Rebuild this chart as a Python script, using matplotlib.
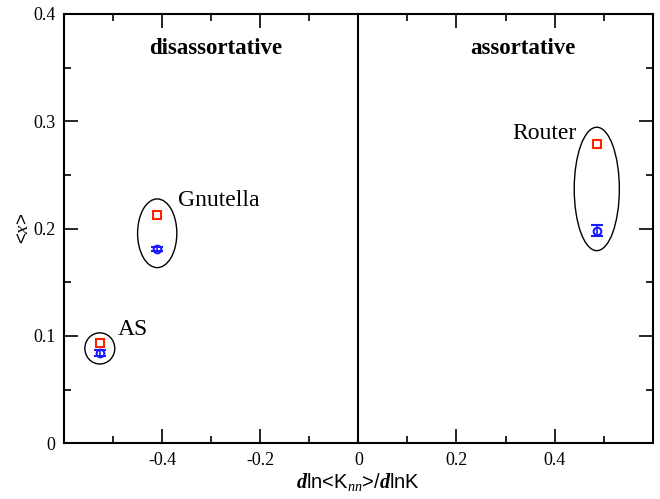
import matplotlib
matplotlib.use("Agg")
import matplotlib.pyplot as plt
from matplotlib.patches import Ellipse
from matplotlib.ticker import MultipleLocator

plt.rcParams['mathtext.fontset'] = 'custom'
plt.rcParams['mathtext.rm'] = 'Liberation Serif'
plt.rcParams['mathtext.it'] = 'Liberation Serif:italic'
plt.rcParams['mathtext.bf'] = 'Liberation Serif:bold'
plt.rcParams['mathtext.bfit'] = 'Liberation Serif:bold:italic'

networks = ["AS", "Gnutella", "Router"]
slope = [-0.527, -0.410, 0.487]
x_red = [0.0935, 0.213, 0.279]
x_blue = [0.084, 0.181, 0.198]
x_blue_err = [0.003, 0.002, 0.005]

ell_cx = [-0.527, -0.410, 0.486]
ell_cy = [0.0884, 0.1957, 0.237]
ell_w = [0.061, 0.080, 0.092]
ell_h = [0.029, 0.064, 0.115]

label_x = [-0.49, -0.368, 0.444]
label_y = [0.106, 0.226, 0.289]
label_ha = ["left", "left", "right"]

fig = plt.figure(figsize=(6.6, 4.99), dpi=100)
ax = fig.add_axes([64/660, 1-443.3/499, (652.7-64)/660, (443.3-14)/499])

ax.set_xlim(-0.6, 0.6)
ax.set_ylim(0, 0.4)
ax.axvline(0, color='black', lw=1.5)

ax.plot(slope, x_red, 's', mfc='none', mec='#ff2000', mew=1.5, ms=5.5, ls='none')
ax.errorbar(slope, x_blue, yerr=x_blue_err, fmt='o', mfc='none', mec='#1a1aff',
            ecolor='#1a1aff', mew=1.5, ms=5.5, capsize=4, elinewidth=1.2, capthick=1.2)

for cx, cy, w, h in zip(ell_cx, ell_cy, ell_w, ell_h):
    ax.add_patch(Ellipse((cx, cy), w, h, fill=False, ec='black', lw=1.0))

for name, lx, ly, ha in zip(networks, label_x, label_y, label_ha):
    ax.text(lx, ly, name, ha=ha, va='center', fontsize=17, family='Liberation Serif')

ax.text(-0.29, 0.368, "disassortative", ha='center', va='center', fontsize=16.5,
        family='Liberation Serif', weight='bold')
ax.text(0.335, 0.368, "assortative", ha='center', va='center', fontsize=16.5,
        family='Liberation Serif', weight='bold')

ax.xaxis.set_major_locator(MultipleLocator(0.2))
ax.xaxis.set_minor_locator(MultipleLocator(0.1))
ax.yaxis.set_major_locator(MultipleLocator(0.1))
ax.yaxis.set_minor_locator(MultipleLocator(0.05))
ax.tick_params(which='both', direction='in', top=True, right=True, width=1.2)
ax.tick_params(which='major', length=10, labelsize=13, pad=6)
ax.tick_params(which='minor', length=5)

def fmt(v, pos):
    if abs(v) < 1e-9:
        return "0"
    return ("%.1f" % v)
ax.xaxis.set_major_formatter(plt.FuncFormatter(fmt))
ax.yaxis.set_major_formatter(plt.FuncFormatter(fmt))
ax.set_xticks([-0.4, -0.2, 0, 0.2, 0.4])
for lab in ax.get_xticklabels() + ax.get_yticklabels():
    lab.set_family('Liberation Serif')

for s in ax.spines.values():
    s.set_linewidth(1.5)

ax.set_xlabel(r'$\mathbfit{d}$ln<K$_{\mathit{nn}}$>/$\mathbfit{d}$lnK',
              fontsize=14.5, family='Liberation Sans', labelpad=2)
ax.set_ylabel(r'<$\mathit{x}$>', fontsize=13.5, family='Liberation Sans', labelpad=1)

fig.savefig("out.png", dpi=100)
